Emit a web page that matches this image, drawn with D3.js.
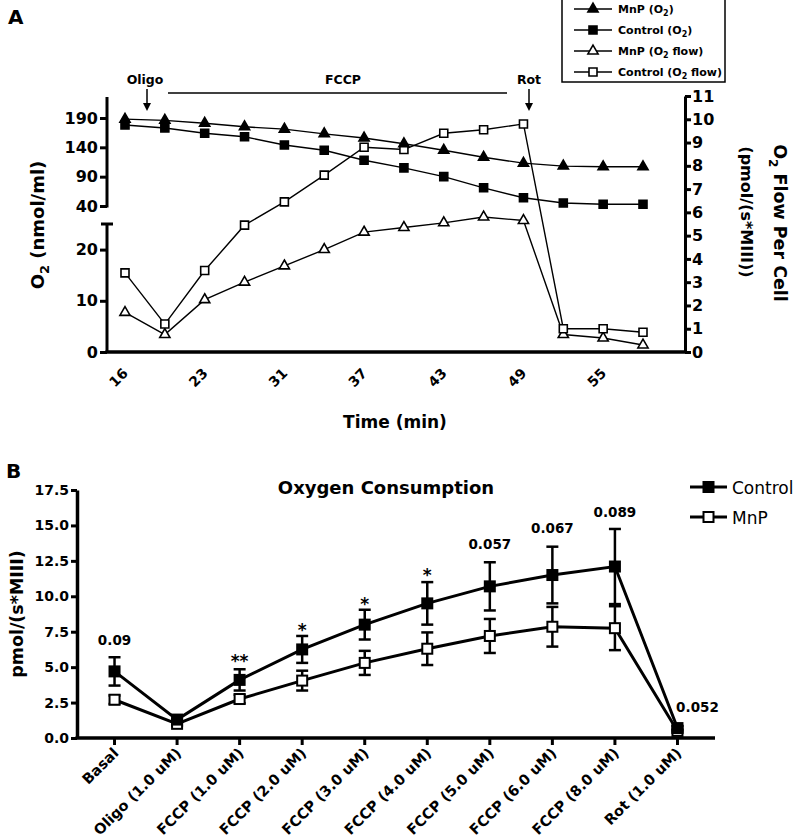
<!DOCTYPE html>
<html><head><meta charset="utf-8">
<script src="https://cdn.jsdelivr.net/npm/d3@7"></script>
<style>
body{margin:0;background:#fff;}
svg{display:block;font-family:"DejaVu Sans",sans-serif;}
.b{font-weight:bold;}
</style></head>
<body>
<svg id="c" width="800" height="839"></svg>
<script>
// ---------- Panel A data ----------
const timeTicks = [16, 23, 31, 37, 43, 49, 55];           // labels at every second point
const mnpO2   = [188, 186, 181, 175, 171, 163, 156, 146, 135, 123, 113, 108, 107, 107];
const ctrlO2  = [178, 173, 164, 158, 144, 135, 118, 105, 90, 71, 54, 45, 43, 43];
const mnpFlow = [1.7, 0.75, 2.25, 3.0, 3.7, 4.4, 5.15, 5.35, 5.55, 5.8, 5.65, 0.75, 0.6, 0.3];
const ctrlFlow= [3.4, 1.2, 3.5, 5.45, 6.45, 7.6, 8.8, 8.7, 9.4, 9.55, 9.8, 1.0, 1.0, 0.85];
const leftTopTicks = [40, 90, 140, 190];
const leftBotTicks = [0, 10, 20];
const rightTicks = d3.range(0, 12);

// ---------- Panel B data ----------
const conditions = ["Basal","Oligo (1.0 uM)","FCCP (1.0 uM)","FCCP (2.0 uM)","FCCP (3.0 uM)","FCCP (4.0 uM)","FCCP (5.0 uM)","FCCP (6.0 uM)","FCCP (8.0 uM)","Rot (1.0 uM)"];
const ctrlMean = [4.7, 1.3, 4.1, 6.25, 8.0, 9.5, 10.7, 11.5, 12.1, 0.7];
const ctrlErr  = [1.0, 0.25, 0.75, 0.95, 1.05, 1.5, 1.7, 2.0, 2.65, 0.15];
const mnpMean  = [2.7, 1.0, 2.75, 4.05, 5.3, 6.3, 7.2, 7.85, 7.75, 0.5];
const mnpErr   = [0.3, 0.15, 0.3, 0.7, 0.85, 1.15, 1.2, 1.4, 1.55, 0.1];
const pLabels  = ["0.09", "", "**", "*", "*", "*", "0.057", "0.067", "0.089", "0.052"];
const bTicks = [0, 2.5, 5, 7.5, 10, 12.5, 15, 17.5];

const svg = d3.select("#c");
const FF = "DejaVu Sans, sans-serif";

// ================= PANEL A =================
const A = svg.append("g");
const xA = d3.scaleLinear().domain([0, 13]).range([125, 643]);
const yTop = d3.scaleLinear().domain([40, 190]).range([206, 118]);
const yBot = d3.scaleLinear().domain([0, 25]).range([352, 224]);
const yR = d3.scaleLinear().domain([0, 11]).range([352, 96]);
const axL = 107, axR = 685;

A.append("text").attr("class","b").attr("x",8).attr("y",24).attr("font-size",20).text("A");

// left axis top segment
const gLT = A.append("g").attr("transform",`translate(${axL},0)`)
  .call(d3.axisLeft(yTop).tickValues(leftTopTicks).tickSize(7).tickPadding(2).tickSizeOuter(0));
gLT.select(".domain").remove();
gLT.append("line").attr("y1", 97).attr("y2", yTop(40)+1.5).attr("stroke","#000").attr("stroke-width",3);
// left axis bottom segment
const gLB = A.append("g").attr("transform",`translate(${axL},0)`)
  .call(d3.axisLeft(yBot).tickValues(leftBotTicks).tickSize(7).tickPadding(2).tickSizeOuter(0));
gLB.select(".domain").remove();
gLB.append("line").attr("y1", yBot(25)).attr("y2", yBot(0)).attr("stroke","#000").attr("stroke-width",3);
gLB.append("line").attr("x1",-6).attr("x2",6).attr("y1",yBot(25)).attr("y2",yBot(25)).attr("stroke","#000").attr("stroke-width",3);
[gLT, gLB].forEach(g => {
  g.selectAll(".tick line").attr("stroke-width",3);
  g.selectAll(".tick text").attr("class","b").attr("font-size",16).attr("font-family",FF);
});

// right axis
const gR = A.append("g").attr("transform",`translate(${axR},0)`)
  .call(d3.axisRight(yR).tickValues(rightTicks).tickSize(6).tickPadding(1).tickSizeOuter(0));
gR.select(".domain").attr("stroke-width",3);
gR.selectAll(".tick line").attr("stroke-width",3);
gR.selectAll(".tick text").attr("class","b").attr("font-size",16).attr("font-family",FF);

// x axis line
A.append("line").attr("x1",axL-1.5).attr("x2",axR+1.5).attr("y1",352).attr("y2",352).attr("stroke","#000").attr("stroke-width",3.5);
// x tick labels
timeTicks.forEach((t,i) => {
  const x = xA(i*2) - 3;
  A.append("text").attr("class","b").attr("font-size",14)
    .attr("text-anchor","middle").attr("transform",`translate(${x},381) rotate(-45)`).text(t);
});
A.append("text").attr("class","b").attr("font-size",17).attr("x",395).attr("y",428).attr("text-anchor","middle").text("Time (min)");

// axis titles
const lt = A.append("text").attr("class","b").attr("font-size",18).attr("text-anchor","middle")
  .attr("transform","translate(44,225) rotate(-90)");
lt.append("tspan").text("O");
lt.append("tspan").attr("font-size",13).attr("dy",5).text("2");
lt.append("tspan").attr("dy",-5).text(" (nmol/ml)");

const rt1 = A.append("text").attr("class","b").attr("font-size",17.5).attr("text-anchor","middle")
  .attr("transform","translate(774,223) rotate(90)");
rt1.append("tspan").text("O");
rt1.append("tspan").attr("font-size",12).attr("dy",5).text("2");
rt1.append("tspan").attr("dy",-5).text(" Flow Per Cell");
A.append("text").attr("class","b").attr("font-size",16).attr("text-anchor","middle")
  .attr("transform","translate(741,212) rotate(90)").text("(pmol/(s*MIII))");

// annotations
A.append("text").attr("class","b").attr("font-size",12.5).attr("x",145).attr("y",84).attr("text-anchor","middle").text("Oligo");
A.append("text").attr("class","b").attr("font-size",12.5).attr("x",343).attr("y",84).attr("text-anchor","middle").text("FCCP");
A.append("text").attr("class","b").attr("font-size",12.5).attr("x",529).attr("y",84).attr("text-anchor","middle").text("Rot");
A.append("line").attr("x1",168).attr("x2",507).attr("y1",93).attr("y2",93).attr("stroke","#000").attr("stroke-width",1.5);
[147, 529].forEach(x => {
  A.append("line").attr("x1",x).attr("x2",x).attr("y1",89).attr("y2",106).attr("stroke","#000").attr("stroke-width",1.5);
  A.append("path").attr("d",`M${x-4},103 L${x+4},103 L${x},111 Z`).attr("fill","#000");
});

// series
const tri = d3.symbol().type(d3.symbolTriangle).size(45);
const sq = d3.symbol().type(d3.symbolSquare).size(64);
function seriesA(vals, yScale, shape, filled) {
  const line = d3.line().x((d,i)=>xA(i)).y(d=>yScale(d));
  A.append("path").attr("d", line(vals)).attr("fill","none").attr("stroke","#000").attr("stroke-width",1.4);
  A.selectAll(null).data(vals).enter().append("path")
    .attr("d", shape)
    .attr("transform",(d,i)=>`translate(${xA(i)},${yScale(d)})`)
    .attr("fill", filled ? "#000" : "#fff").attr("stroke","#000").attr("stroke-width",1.6);
}
seriesA(mnpFlow, yR, tri, false);
seriesA(ctrlFlow, yR, sq, false);
seriesA(ctrlO2, yTop, sq, true);
seriesA(mnpO2, yTop, tri, true);

// legend A
const lgA = A.append("g");
lgA.append("rect").attr("x",562).attr("y",-1).attr("width",163).attr("height",83).attr("fill","#fff").attr("stroke","#000").attr("stroke-width",1.5);
const legA = [["MnP (O","2",")",tri,true],["Control (O","2",")",sq,true],["MnP (O","2"," flow)",tri,false],["Control (O","2"," flow)",sq,false]];
legA.forEach((l,i) => {
  const y = 9 + i*21;
  lgA.append("line").attr("x1",574).attr("x2",612).attr("y1",y).attr("y2",y).attr("stroke","#000").attr("stroke-width",1.4);
  lgA.append("path").attr("d", l[3]).attr("transform",`translate(593,${y})`).attr("fill", l[4]?"#000":"#fff").attr("stroke","#000").attr("stroke-width",1.6);
  const t = lgA.append("text").attr("class","b").attr("font-size",11).attr("x",618).attr("y",y+4);
  t.append("tspan").text(l[0]);
  t.append("tspan").attr("font-size",8).attr("dy",3).text(l[1]);
  t.append("tspan").attr("dy",-3).text(l[2]);
});

// ================= PANEL B =================
const B = svg.append("g");
const xB = d3.scalePoint().domain(conditions).range([77, 715]).padding(0.6);
const yB = d3.scaleLinear().domain([0, 17.5]).range([738, 490]);

B.append("text").attr("class","b").attr("x",6).attr("y",478).attr("font-size",20).text("B");
B.append("text").attr("class","b").attr("x",386).attr("y",494).attr("font-size",18).attr("text-anchor","middle").text("Oxygen Consumption");

const gBL = B.append("g").attr("transform","translate(77,0)")
  .call(d3.axisLeft(yB).tickValues(bTicks).tickFormat(d3.format(".1f")).tickSize(6).tickPadding(2).tickSizeOuter(0));
gBL.select(".domain").attr("stroke-width",3.5);
gBL.selectAll(".tick line").attr("stroke-width",3);
gBL.selectAll(".tick text").attr("class","b").attr("font-size",14).attr("font-family",FF);

B.append("line").attr("x1",75.5).attr("x2",715).attr("y1",738).attr("y2",738).attr("stroke","#000").attr("stroke-width",3.5);
conditions.forEach(c => {
  B.append("line").attr("x1",xB(c)).attr("x2",xB(c)).attr("y1",738).attr("y2",745).attr("stroke","#000").attr("stroke-width",3);
  B.append("text").attr("class","b").attr("font-size",14.5).attr("text-anchor","end")
    .attr("transform",`translate(${xB(c)+5},754) rotate(-45)`).text(c);
});
B.append("text").attr("class","b").attr("font-size",17.5).attr("text-anchor","middle")
  .attr("transform","translate(23,614) rotate(-90)").text("pmol/(s*MIII)");

function seriesB(mean, err, filled) {
  const line = d3.line().x((d,i)=>xB(conditions[i])).y(d=>yB(d));
  B.append("path").attr("d", line(mean)).attr("fill","none").attr("stroke","#000").attr("stroke-width",3);
  mean.forEach((m,i) => {
    const x = xB(conditions[i]);
    const g = B.append("g");
    g.append("line").attr("x1",x).attr("x2",x).attr("y1",yB(m+err[i])).attr("y2",yB(m-err[i])).attr("stroke","#000").attr("stroke-width",2.5);
    [m+err[i], m-err[i]].forEach(v => g.append("line").attr("x1",x-6).attr("x2",x+6).attr("y1",yB(v)).attr("y2",yB(v)).attr("stroke","#000").attr("stroke-width",2.5));
  });
  B.selectAll(null).data(mean).enter().append("rect")
    .attr("x",(d,i)=>xB(conditions[i])-5).attr("y",d=>yB(d)-5).attr("width",10).attr("height",10)
    .attr("fill", filled ? "#000" : "#fff").attr("stroke","#000").attr("stroke-width",2);
}
seriesB(mnpMean, mnpErr, false);
seriesB(ctrlMean, ctrlErr, true);

// p labels
const pY = [645, null, 661, 630, 604, 575, 549, 533, 517, 712];
pLabels.forEach((p,i) => {
  if (!p) return;
  const star = p.startsWith("*");
  const x = i === 9 ? xB(conditions[i]) + 20 : xB(conditions[i]);
  B.append("text").attr("class","b").attr("font-size", star ? 17 : 13.5)
    .attr("x", x).attr("y", pY[i] + (star ? 6 : 0)).attr("text-anchor","middle").text(p);
});

// legend B
[["Control", true, 487], ["MnP", false, 517]].forEach(l => {
  B.append("line").attr("x1",690).attr("x2",727).attr("y1",l[2]).attr("y2",l[2]).attr("stroke","#000").attr("stroke-width",3);
  B.append("rect").attr("x",703.5).attr("y",l[2]-5).attr("width",10).attr("height",10).attr("fill",l[1]?"#000":"#fff").attr("stroke","#000").attr("stroke-width",2);
  B.append("text").attr("x",732).attr("y",l[2]+6.5).attr("font-size",17).text(l[0]);
});
</script>
</body></html>
